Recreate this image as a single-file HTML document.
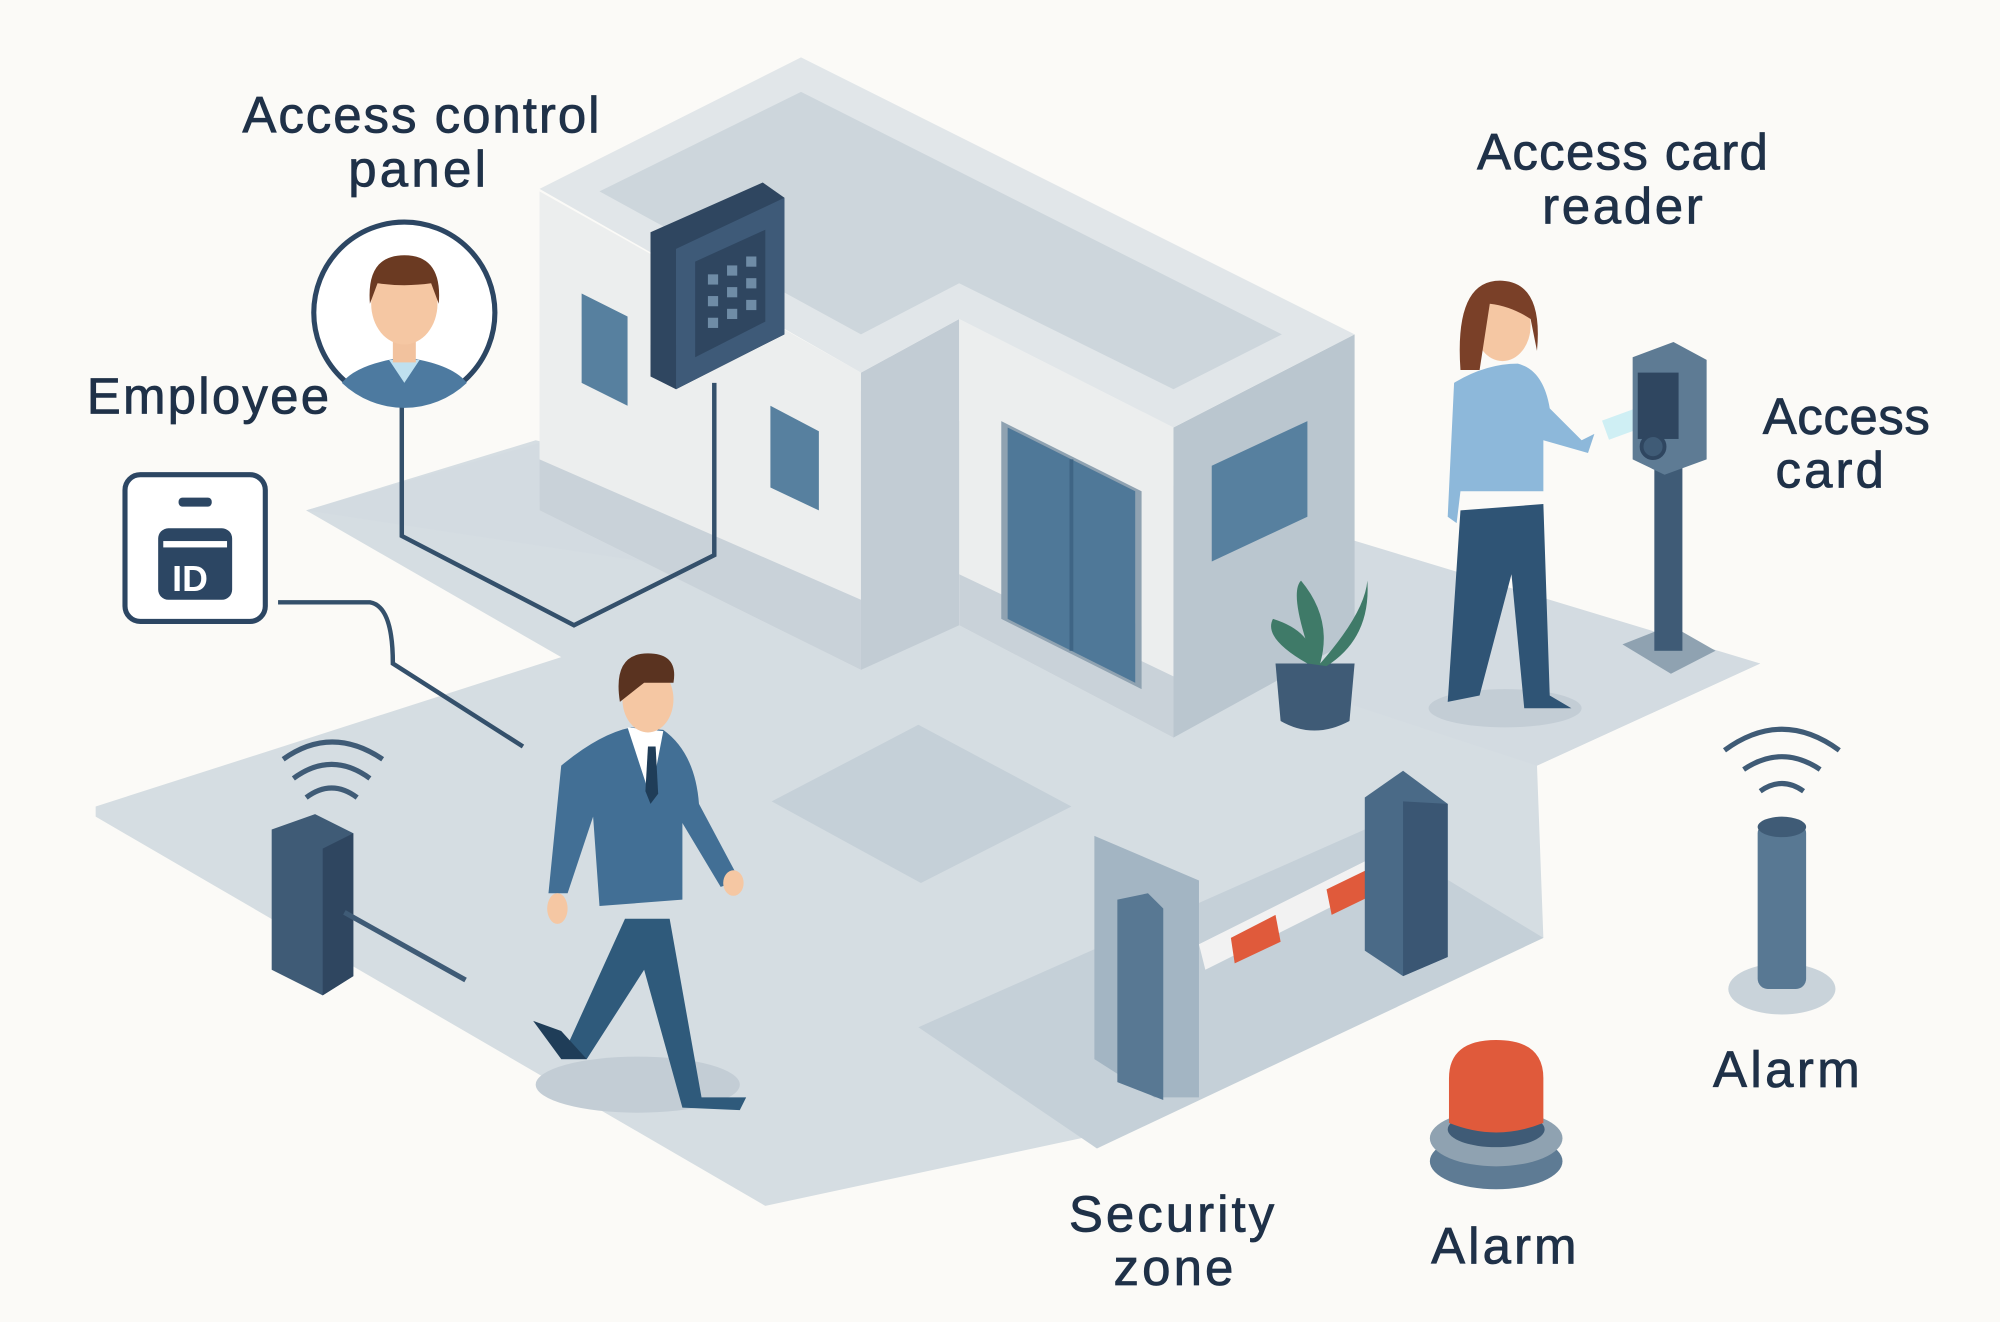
<!DOCTYPE html>
<html><head><meta charset="utf-8"><style>
html,body{margin:0;padding:0;background:#fbfaf7;}
svg{display:block;}
text{font-family:"Liberation Sans",sans-serif;fill:#1f3148;font-size:40px;stroke:#1f3148;stroke-width:0.6px;}
</style></head><body>
<svg width="2000" height="1322" viewBox="0 0 1568 1036" preserveAspectRatio="none" xmlns="http://www.w3.org/2000/svg">
<rect width="1568" height="1036" fill="#fbfaf7"/>
<!-- ground -->
<polygon points="75,632 440,515 240,400 420,345 1062,500 1380,520 1205,600 1210,735 880,885 600,945 75,640" fill="#d5dde2"/>
<polygon points="240,400 620,290 1380,520 1205,600 900,500" fill="#d3dbe1"/>
<polygon points="720,805 1070,650 1210,735 860,900" fill="#c5d0d8"/>
<polygon points="605,628 720,568 840,632 722,692" fill="#c5d0d8"/>
<ellipse cx="500" cy="850" rx="80" ry="22" fill="#c3cdd5"/>
<ellipse cx="1180" cy="555" rx="60" ry="15" fill="#c3cdd5"/>
<!-- building -->
<polygon points="423,150 675,292 675,525 423,400" fill="#eceeee"/>
<polygon points="423,360 675,470 675,525 423,400" fill="#c9d2d9"/>
<polygon points="675,292 752,250 752,490 675,525" fill="#c2ccd4"/>
<polygon points="752,250 920,335 920,578 752,490" fill="#eceeee"/>
<polygon points="752,450 920,530 920,578 752,490" fill="#c9d2d9"/>
<polygon points="920,335 1062,262 1062,500 920,578" fill="#bac6cf"/>
<polygon points="423,148 628,45 1062,262 920,335 752,250 675,292" fill="#e1e6e9"/>
<polygon points="470,150 628,72 1005,262 920,305 752,222 675,262" fill="#cdd6dc"/>
<!-- windows -->
<polygon points="456,230 492,248 492,318 456,300" fill="#57809f"/>
<polygon points="604,318 642,338 642,400 604,382" fill="#57809f"/>
<polygon points="950,365 1025,330 1025,405 950,440" fill="#57809f"/>
<polygon points="785,330 895,385 895,540 785,485" fill="#8fa2b1"/>
<polygon points="790,335 890,385 890,535 790,485" fill="#4f7898"/>
<line x1="840" y1="360" x2="840" y2="510" stroke="#3f6585" stroke-width="3"/>
<!-- panel -->
<polygon points="510,182 598,143 615,155 615,262 530,305 510,295" fill="#2f4660"/>
<polygon points="530,195 615,155 615,262 530,305" fill="#3e5a78"/>
<polygon points="545,205 600,180 600,252 545,280" fill="#2f4660"/>
<g fill="#6f8ca6"><rect x="555" y="215" width="8" height="8"/><rect x="570" y="208" width="8" height="8"/><rect x="585" y="201" width="8" height="8"/><rect x="555" y="232" width="8" height="8"/><rect x="570" y="225" width="8" height="8"/><rect x="585" y="218" width="8" height="8"/><rect x="555" y="249" width="8" height="8"/><rect x="570" y="242" width="8" height="8"/><rect x="585" y="235" width="8" height="8"/></g>
<!-- wires -->
<path d="M315,310 V420 L450,490 L560,435 V300" fill="none" stroke="#34506b" stroke-width="3.5"/>
<path d="M218,472 H290 Q308,475 308,520 L410,585" fill="none" stroke="#34506b" stroke-width="3.5"/>
<!-- avatar -->
<circle cx="317" cy="245" r="71" fill="#fff" stroke="#2c4663" stroke-width="4"/>
<path d="M268,300 Q280,285 317,280 Q354,285 366,300 A71,71 0 0 1 268,300Z" fill="#4d7aa0"/>
<path d="M305,282 L317,300 L329,282Z" fill="#bfe0ef"/>
<rect x="308" y="262" width="18" height="22" fill="#f2c29e"/>
<ellipse cx="317" cy="238" rx="26" ry="32" fill="#f5c7a3"/>
<path d="M290,238 Q287,200 317,200 Q347,200 344,238 L338,222 Q317,225 296,222Z" fill="#6b3a22"/>
<!-- ID badge -->
<rect x="98" y="372" width="110" height="115" rx="12" fill="#fff" stroke="#2c4663" stroke-width="4"/>
<rect x="140" y="390" width="26" height="7" rx="3" fill="#2c4663"/>
<rect x="124" y="414" width="58" height="56" rx="8" fill="#2c4663"/>
<rect x="128" y="424" width="50" height="5" fill="#fff"/>
<text x="135" y="463" style="font-size:28px;font-weight:bold;fill:#fff;stroke:none">ID</text>
<!-- left bollard -->
<polygon points="213,650 247,638 277,653 277,765 253,780 213,760" fill="#3f5b76"/>
<polygon points="253,665 277,653 277,765 253,780" fill="#2f4660"/>
<line x1="270" y1="715" x2="365" y2="768" stroke="#3f5b76" stroke-width="4"/>
<g fill="none" stroke="#3f5b76" stroke-width="4"><path d="M240,625 Q260,610 280,625"/><path d="M230,610 Q260,588 290,610"/><path d="M222,595 Q260,568 300,595"/></g>
<!-- man -->
<path d="M440,830 L490,720 L525,720 L550,860 L585,860 L580,870 L535,868 L505,760 L460,830 Z" fill="#2f5a7b"/>
<path d="M418,800 L440,830 L460,830 L440,808Z" fill="#1f3d58"/>
<path d="M440,600 Q470,575 495,570 L520,572 Q545,590 548,630 L580,690 L565,695 L535,645 L535,705 L470,710 L465,640 L445,700 L430,700 Z" fill="#426f95"/>
<path d="M492,570 L510,625 L520,573Z" fill="#fff"/>
<path d="M508,585 L514,585 L516,622 L510,630 L506,620Z" fill="#1f3d58"/>
<ellipse cx="508" cy="548" rx="20" ry="26" fill="#f5c7a3"/>
<path d="M486,550 Q480,512 508,512 Q532,512 528,535 L505,535 Z" fill="#5a3320"/>
<ellipse cx="437" cy="712" rx="8" ry="12" fill="#f5c7a3"/><ellipse cx="575" cy="692" rx="8" ry="10" fill="#f5c7a3"/>
<!-- woman -->
<path d="M1145,400 L1210,395 L1215,545 L1232,555 L1195,555 L1185,450 L1160,545 L1135,550 Z" fill="#2f5475"/>
<path d="M1140,300 Q1165,285 1190,285 Q1210,290 1215,320 L1240,345 L1250,340 L1245,355 L1210,345 L1210,385 L1145,385 L1142,410 L1135,405 Z" fill="#8db8da"/>
<ellipse cx="1178" cy="255" rx="22" ry="28" fill="#f5c7a3"/>
<path d="M1145,290 Q1140,218 1178,220 Q1210,222 1205,275 L1200,250 Q1185,240 1168,238 L1160,290Z" fill="#7a4028"/>
<rect x="1258" y="325" width="30" height="16" fill="#cfeff4" transform="rotate(-20 1270 333)"/>
<!-- reader -->
<polygon points="1272,505 1310,490 1345,510 1310,528" fill="#8fa2b1"/>
<rect x="1297" y="350" width="22" height="160" fill="#3f5b76"/>
<polygon points="1280,280 1312,268 1338,282 1338,360 1305,372 1280,360" fill="#5e7b94"/>
<rect x="1284" y="292" width="32" height="52" fill="#2f4660"/>
<circle cx="1296" cy="350" r="9" fill="#3f5b76" stroke="#2f4660" stroke-width="3"/>
<!-- plant -->
<path d="M1000,520 L1062,520 L1058,565 Q1030,580 1004,565Z" fill="#3f5b76"/>
<path d="M1025,520 Q990,500 998,485 Q1030,495 1030,520 Q1010,465 1020,455 Q1045,485 1035,520 Q1070,480 1072,455 Q1075,500 1040,522Z" fill="#3f7a68"/>
<!-- barrier -->
<polygon points="858,655 940,690 940,860 905,860 858,830" fill="#a3b5c3"/>
<polygon points="940,740 1090,665 1095,685 945,760" fill="#f2f2f2"/>
<polygon points="965,735 1000,717 1004,738 968,755" fill="#e05a3b"/>
<polygon points="1040,697 1075,680 1079,700 1044,717" fill="#e05a3b"/>
<polygon points="876,705 900,700 912,712 912,862 876,848" fill="#587893"/>
<polygon points="1070,625 1100,604 1135,630 1135,750 1100,765 1070,745" fill="#4a6a87"/>
<polygon points="1100,628 1135,630 1135,750 1100,765" fill="#3a5673"/>
<!-- alarm center -->
<ellipse cx="1173" cy="910" rx="52" ry="22" fill="#5e7b94"/>
<ellipse cx="1173" cy="892" rx="52" ry="22" fill="#8fa2b1"/>
<ellipse cx="1173" cy="885" rx="38" ry="14" fill="#3f5b76"/>
<path d="M1136,880 V845 Q1136,815 1173,815 Q1210,815 1210,845 V880 Q1173,895 1136,880Z" fill="#e05a3b"/>
<!-- alarm right -->
<ellipse cx="1397" cy="775" rx="42" ry="20" fill="#c9d3da"/>
<rect x="1378" y="645" width="38" height="130" rx="8" fill="#587893"/>
<ellipse cx="1397" cy="648" rx="19" ry="8" fill="#3f5b76"/>
<g fill="none" stroke="#3f5b76" stroke-width="4"><path d="M1380,620 Q1397,608 1414,620"/><path d="M1367,603 Q1397,583 1427,603"/><path d="M1352,588 Q1397,555 1442,588"/></g>
<!-- labels -->
<text x="190" y="104" textLength="280">Access control</text>
<text x="273" y="146" textLength="108">panel</text>
<text x="68" y="324" textLength="190">Employee</text>
<text x="1158" y="133" textLength="228">Access card</text>
<text x="1209" y="175" textLength="126">reader</text>
<text x="1382" y="340" textLength="131">Access</text>
<text x="1392" y="382" textLength="85">card</text>
<text x="1343" y="852" textLength="115">Alarm</text>
<text x="1122" y="990" textLength="114">Alarm</text>
<text x="838" y="965" textLength="161">Security</text>
<text x="873" y="1007" textLength="94">zone</text>
</svg>
</body></html>
